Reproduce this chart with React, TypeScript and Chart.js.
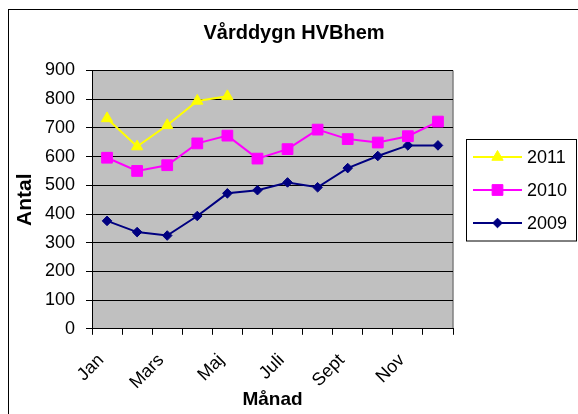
import React, { useEffect, useRef } from "react";
import { Chart, registerables } from "chart.js";

Chart.register(...registerables);

const months = ["Jan", "Feb", "Mars", "April", "Maj", "Juni", "Juli", "Aug", "Sept", "Okt", "Nov", "Dec"];
const seriesNames = ["2011", "2010", "2009"];
const values2011 = [733, 635, 709, 794, 810];
const values2010 = [596, 550, 570, 646, 673, 593, 626, 694, 661, 649, 671, 722];
const values2009 = [376, 337, 325, 393, 472, 483, 510, 493, 560, 602, 639, 639];
const yTicksMin = 0;
const yTicksMax = 900;
const yTickStep = 100;

const FONT = "'Liberation Sans', Arial, Helvetica, sans-serif";

function drawMarker(ctx: CanvasRenderingContext2D, style: string, x: number, y: number, r: number, color: string) {
  ctx.save();
  ctx.fillStyle = color;
  ctx.strokeStyle = color;
  ctx.lineWidth = 1;
  ctx.beginPath();
  if (style === "triangle") {
    for (let k = 0; k < 3; k++) {
      const a = (k * 2 * Math.PI) / 3;
      const px = x + Math.sin(a) * r;
      const py = y - Math.cos(a) * r;
      if (k === 0) ctx.moveTo(px, py);
      else ctx.lineTo(px, py);
    }
    ctx.closePath();
  } else if (style === "rect") {
    const s = Math.SQRT1_2 * r;
    ctx.rect(x - s, y - s, 2 * s, 2 * s);
  } else {
    ctx.moveTo(x, y - r);
    ctx.lineTo(x + r, y);
    ctx.lineTo(x, y + r);
    ctx.lineTo(x - r, y);
    ctx.closePath();
  }
  ctx.fill();
  ctx.stroke();
  ctx.restore();
}

const framePlugin = {
  id: "excelFrame",
  beforeDraw(chart: any) {
    const { ctx, chartArea } = chart;
    ctx.save();
    ctx.fillStyle = "#ffffff";
    ctx.fillRect(0, 0, chart.width, chart.height);
    ctx.strokeStyle = "#000000";
    ctx.lineWidth = 1;
    ctx.strokeRect(8.5, 9.5, 800, 800);
    ctx.fillStyle = "#C0C0C0";
    ctx.fillRect(chartArea.left, chartArea.top, chartArea.right - chartArea.left, chartArea.bottom - chartArea.top);
    ctx.strokeStyle = "#808080";
    ctx.lineWidth = 1.5;
    ctx.beginPath();
    ctx.moveTo(chartArea.right, chartArea.top);
    ctx.lineTo(chartArea.right, chartArea.bottom);
    ctx.stroke();
    ctx.restore();
  },
  afterDraw(chart: any) {
    const { ctx } = chart;
    const ds = chart.data.datasets;
    ctx.save();
    ctx.strokeStyle = "#000000";
    ctx.lineWidth = 1;
    ctx.strokeRect(466.5, 139.5, 110, 101.5);
    ds.forEach((d: any, i: number) => {
      const y = 157 + i * 33;
      ctx.strokeStyle = d.borderColor;
      ctx.lineWidth = d.borderWidth;
      ctx.beginPath();
      ctx.moveTo(473, y);
      ctx.lineTo(522, y);
      ctx.stroke();
      drawMarker(ctx, d.pointStyle, 497.5, y, d.pointRadius, d.borderColor);
      ctx.fillStyle = "#000000";
      ctx.font = `18px ${FONT}`;
      ctx.textBaseline = "middle";
      ctx.textAlign = "left";
      ctx.fillText(d.label, 527, y + 1);
    });
    ctx.restore();
  },
};

export default function App() {
  const ref = useRef<HTMLCanvasElement | null>(null);

  useEffect(() => {
    if (!ref.current) return;
    Chart.defaults.font.family = FONT;
    const chart = new Chart(ref.current, {
      type: "line",
      data: {
        labels: months,
        datasets: [
          {
            label: seriesNames[0],
            data: values2011,
            borderColor: "#FFFF00",
            backgroundColor: "#FFFF00",
            borderWidth: 2,
            pointStyle: "triangle",
            pointRadius: 6.5,
            pointBorderWidth: 1,
            tension: 0,
          },
          {
            label: seriesNames[1],
            data: values2010,
            borderColor: "#FF00FF",
            backgroundColor: "#FF00FF",
            borderWidth: 2,
            pointStyle: "rect",
            pointRadius: 7.6,
            pointBorderWidth: 1,
            tension: 0,
          },
          {
            label: seriesNames[2],
            data: values2009,
            borderColor: "#000080",
            backgroundColor: "#000080",
            borderWidth: 2,
            pointStyle: "rectRot",
            pointRadius: 4.8,
            pointBorderWidth: 1,
            tension: 0,
          },
        ],
      },
      options: {
        animation: false,
        responsive: false,
        devicePixelRatio: 1,
        layout: { padding: { left: 10, right: 0, top: 0, bottom: 0 } },
        plugins: {
          legend: { display: false },
          tooltip: { enabled: false },
          title: {
            display: true,
            text: "Vårddygn HVBhem",
            color: "#000000",
            font: { size: 20, weight: "bold", family: FONT },
            padding: { top: 21.5, bottom: 25 },
          },
        },
        scales: {
          x: {
            type: "category",
            offset: true,
            grid: {
              offset: true,
              drawOnChartArea: false,
              drawTicks: true,
              tickLength: 6,
              color: "#000000",
              tickColor: "#000000",
            },
            border: { display: true, color: "#000000", width: 1 },
            ticks: {
              autoSkip: false,
              minRotation: 45,
              maxRotation: 45,
              padding: 15,
              labelOffset: -6,
              color: "#000000",
              font: { size: 18, family: FONT },
              callback: (_v: any, i: number) => (i % 2 === 0 ? months[i] : ""),
            },
            title: {
              display: true,
              text: "Månad",
              color: "#000000",
              font: { size: 19, weight: "bold", family: FONT },
              padding: { top: 0, bottom: 3 },
            },
            afterFit: (s: any) => {
              s.height = 85.2;
            },
          },
          y: {
            type: "linear",
            position: "left",
            min: yTicksMin,
            max: yTicksMax,
            grid: {
              color: "#000000",
              lineWidth: 1,
              tickLength: 6,
              tickColor: "#000000",
            },
            border: { display: true, color: "#000000", width: 1 },
            ticks: {
              stepSize: yTickStep,
              padding: 11,
              color: "#000000",
              font: { size: 18, family: FONT },
            },
            title: {
              display: true,
              text: "Antal",
              color: "#000000",
              font: { size: 21, weight: "bold", family: FONT },
              padding: { top: 2.4, bottom: 0 },
            },
            afterFit: (s: any) => {
              s.width = 82;
            },
          },
          pad: {
            type: "linear",
            position: "right",
            display: true,
            grid: { display: false, drawTicks: false },
            border: { display: false },
            ticks: { display: false },
            afterFit: (s: any) => {
              s.width = 125;
            },
          },
        },
      },
      plugins: [framePlugin],
    } as any);
    return () => chart.destroy();
  }, []);

  return (
    <div style={{ position: "absolute", left: 0, top: 0, width: 578, height: 414 }}>
      <canvas ref={ref} width={578} height={414} style={{ display: "block", width: 578, height: 414 }} />
    </div>
  );
}
